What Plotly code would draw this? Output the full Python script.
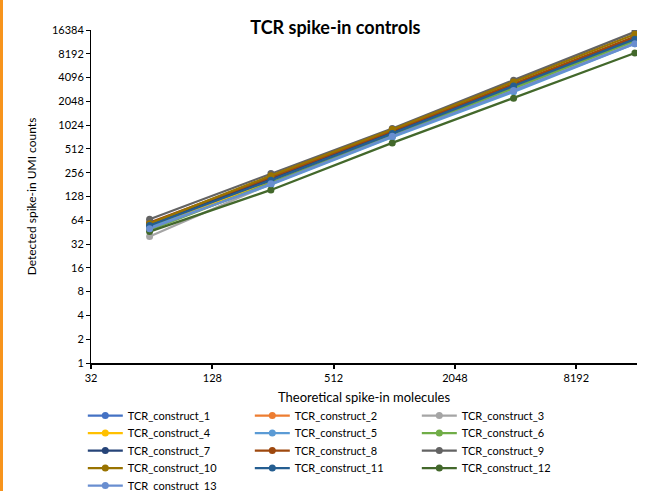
import plotly.graph_objects as go
import math

theoretical = [62.5, 250, 1000, 4000, 16000]

series_names = [f"TCR_construct_{i}" for i in range(1, 14)]
series_values = {
    "TCR_construct_1": [53, 200, 780, 3000, 12000],
    "TCR_construct_2": [54, 200, 800, 3100, 12500],
    "TCR_construct_3": [40, 185, 730, 2900, 11500],
    "TCR_construct_4": [52, 195, 760, 3100, 12500],
    "TCR_construct_5": [52, 180, 720, 2700, 11000],
    "TCR_construct_6": [48, 190, 760, 3000, 12000],
    "TCR_construct_7": [57, 215, 840, 3300, 13000],
    "TCR_construct_8": [60, 225, 870, 3400, 13500],
    "TCR_construct_9": [66, 250, 930, 3800, 15500],
    "TCR_construct_10": [58, 235, 900, 3600, 14500],
    "TCR_construct_11": [55, 205, 800, 3200, 12500],
    "TCR_construct_12": [46, 155, 610, 2250, 8400],
    "TCR_construct_13": [50, 185, 740, 2800, 11000],
}
series_colors = ["#4472C4", "#ED7D31", "#A5A5A5", "#FFC000", "#5B9BD5", "#70AD47",
                 "#264478", "#9E480E", "#636363", "#997300", "#255E91", "#43682B", "#698ED0"]

x_ticks = [32, 128, 512, 2048, 8192]
y_ticks = [1, 2, 4, 8, 16, 32, 64, 128, 256, 512, 1024, 2048, 4096, 8192, 16384]

FONT = "Lato, 'Open Sans', sans-serif"
PLOT_TOP, PLOT_BOTTOM, PLOT_H = 30, 363, 333
legend_row_centers = [415, 432.5, 450, 467.5, 485]  # pixel rows of the 3-column legend

fig = go.Figure()
for i, (name, color) in enumerate(zip(series_names, series_colors)):
    row = i // 3
    fig.add_trace(go.Scatter(
        x=theoretical, y=series_values[name], name=name, mode="lines+markers",
        line=dict(color=color, width=2.25), marker=dict(color=color, size=7),
        legend="legend" if row == 0 else f"legend{row + 1}",
    ))

layout_legends = {}
for row, c in enumerate(legend_row_centers):
    top = c - 14
    key = "legend" if row == 0 else f"legend{row + 1}"
    layout_legends[key] = dict(
        orientation="h", x=-0.015, xanchor="left", y=-(top - PLOT_BOTTOM) / PLOT_H, yanchor="top",
        entrywidth=117, entrywidthmode="pixels", traceorder="normal",
        font=dict(size=11, color="#000000", family=FONT), itemwidth=35,
        tracegroupgap=0, bgcolor="rgba(0,0,0,0)")

fig.update_layout(
    width=645, height=491,
    margin=dict(l=91, r=8, t=30, b=128, autoexpand=False),
    paper_bgcolor="white", plot_bgcolor="white",
    font=dict(family=FONT, size=11, color="#404040"),
    title=dict(text="<b>TCR spike-in controls</b>", x=0.52, xanchor="center",
               y=1 - 28/491, yanchor="middle", font=dict(size=18, color="#000000", family=FONT)),
    showlegend=True,
    **layout_legends,
)
fig.update_xaxes(
    type="log", range=[math.log10(32), math.log10(16384)],
    tickvals=x_ticks, ticktext=[str(v) for v in x_ticks],
    showgrid=False, zeroline=False, showline=True, linecolor="#000000", linewidth=2,
    ticks="outside", ticklen=4, tickcolor="#000000", tickwidth=1.5,
    tickfont=dict(size=11, color="#000000"),
    title=dict(text="Theoretical spike-in molecules", font=dict(size=13, color="#000000"), standoff=10),
)
fig.update_yaxes(
    type="log", range=[0, math.log10(16384)],
    tickvals=y_ticks, ticktext=[str(v) for v in y_ticks],
    showgrid=False, zeroline=False, showline=True, linecolor="#000000", linewidth=1,
    ticks="outside", ticklen=4, tickcolor="#000000",
    tickfont=dict(size=11, color="#000000"),
    title=dict(text="Detected spike-in UMI counts", font=dict(size=12, color="#000000"), standoff=12),
)
fig.add_shape(type="rect", xref="paper", yref="paper",
              x0=-91/546, x1=-88/546, y0=-128/333, y1=1+30/333,
              fillcolor="#F7941D", line=dict(width=0), layer="above")

fig.write_html("out.html", config={"displayModeBar": False},
               post_script="document.body.style.margin='0px';")
